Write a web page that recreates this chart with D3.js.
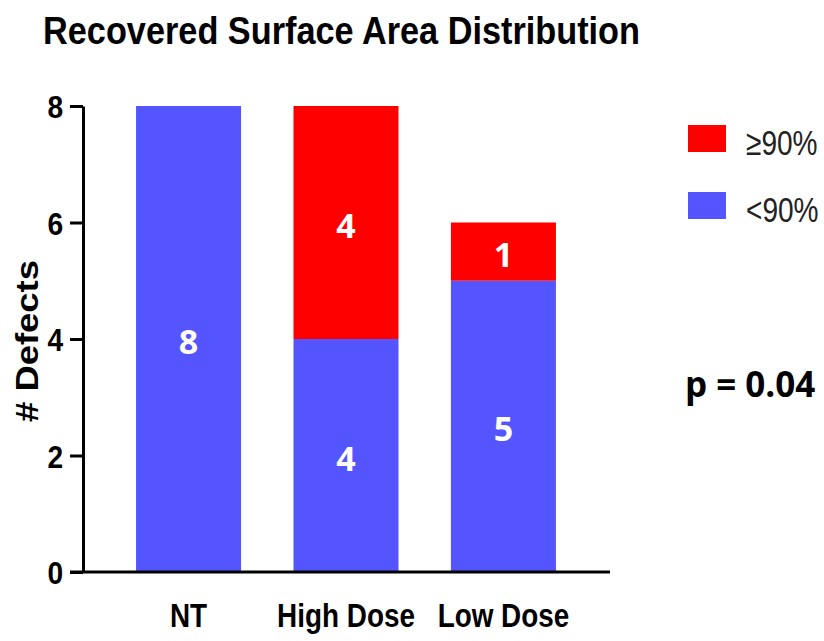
<!DOCTYPE html>
<html>
<head>
<meta charset="utf-8">
<script src="https://cdn.jsdelivr.net/npm/d3@7"></script>
<style>
  body { margin: 0; background: #fff; }
  svg { display: block; }
</style>
</head>
<body>
<svg id="chart" width="824" height="641"></svg>
<script>
const categories = ['NT', 'High Dose', 'Low Dose'];
const below90 = [8, 4, 5];
const above90 = [0, 4, 1];
const yTicks = [0, 2, 4, 6, 8];
const seriesNames = ['\u226590%', '<90%'];
const pValue = 'p = 0.04';

const blue = '#5555ff';
const red = '#ff0000';
const arial = '"Liberation Sans", Arial, sans-serif';
const sans = '"Open Sans", "DejaVu Sans", sans-serif';

const svg = d3.select('#chart');

const y = d3.scaleLinear().domain([0, 8]).range([572, 106]);
const x = d3.scaleBand()
  .domain(categories)
  .range([83, 609])
  .paddingInner(0.333)
  .paddingOuter(0.337);

// title (the original font is a narrow one, so squeeze it)
svg.append('text')
  .attr('x', 43).attr('y', 44)
  .attr('textLength', 597).attr('lengthAdjust', 'spacingAndGlyphs')
  .style('font-family', arial).style('font-weight', 'bold').style('font-size', '38px')
  .text('Recovered Surface Area Distribution');

// stacked bars
const rows = categories.map((c, i) => ({ cat: c, lo: below90[i], hi: above90[i] }));

const bars = svg.append('g');
bars.selectAll('rect.lo').data(rows).join('rect')
  .attr('class', 'lo')
  .attr('x', d => x(d.cat)).attr('width', x.bandwidth())
  .attr('y', d => y(d.lo)).attr('height', d => y(0) - y(d.lo))
  .attr('fill', blue);

bars.selectAll('rect.hi').data(rows.filter(d => d.hi > 0)).join('rect')
  .attr('class', 'hi')
  .attr('x', d => x(d.cat)).attr('width', x.bandwidth())
  .attr('y', d => y(d.lo + d.hi)).attr('height', d => y(d.lo) - y(d.lo + d.hi))
  .attr('fill', red);

// value labels inside segments
const labels = [];
rows.forEach(d => {
  labels.push({ cat: d.cat, v: d.lo, mid: d.lo / 2 });
  if (d.hi > 0) labels.push({ cat: d.cat, v: d.hi, mid: d.lo + d.hi / 2 });
});
svg.append('g').selectAll('text').data(labels).join('text')
  .attr('x', d => x(d.cat) + x.bandwidth() / 2)
  .attr('y', d => y(d.mid) + 15)
  .attr('text-anchor', 'middle')
  .attr('fill', '#fff')
  .style('font-family', sans).style('font-weight', 'bold').style('font-size', '34px')
  .text(d => d.v);

// y axis
const yAxis = svg.append('g')
  .attr('transform', 'translate(83,0)')
  .call(d3.axisLeft(y).tickValues(yTicks).tickSize(13).tickSizeOuter(0).tickPadding(5));
yAxis.select('.domain').attr('stroke', '#000').attr('stroke-width', 3);
yAxis.selectAll('.tick line').attr('stroke', '#000').attr('stroke-width', 3);
yAxis.selectAll('.tick text')
  .attr('dy', '0.36em')
  .attr('transform', 'translate(-18,0) scale(0.88,1)')
  .attr('x', -2)
  .style('font-family', arial).style('font-weight', 'bold').style('font-size', '32px')
  .attr('fill', '#000');

// x axis
const xAxis = svg.append('g')
  .attr('transform', 'translate(0,572)')
  .call(d3.axisBottom(x).tickSize(0).tickPadding(31));
xAxis.select('.domain').remove();
xAxis.selectAll('.tick text')
  .attr('transform', 'scale(0.82,1)')
  .style('font-family', arial).style('font-weight', 'bold').style('font-size', '34px')
  .attr('fill', '#000');
svg.append('line')
  .attr('x1', 70).attr('x2', 610)
  .attr('y1', y(0)).attr('y2', y(0))
  .attr('stroke', '#000').attr('stroke-width', 3);

// y axis title
svg.append('text')
  .attr('transform', `translate(38,${(y(0) + y(8)) / 2 + 2}) rotate(-90)`)
  .attr('text-anchor', 'middle')
  .attr('textLength', 162).attr('lengthAdjust', 'spacingAndGlyphs')
  .style('font-family', arial).style('font-weight', 'bold').style('font-size', '32px')
  .text('# Defects');

// legend
const legendColors = [red, blue];
const legend = svg.append('g').selectAll('g').data(seriesNames).join('g')
  .attr('transform', (d, i) => `translate(688,${125 + i * 67})`);
legend.append('rect')
  .attr('width', 38).attr('height', 27)
  .attr('fill', (d, i) => legendColors[i]);
legend.append('text')
  .attr('transform', 'translate(58,30) scale(0.78,1)')
  .style('font-family', arial).style('font-size', '36px')
  .attr('fill', '#222')
  .text(d => d);

// p value
svg.append('text')
  .attr('x', 685).attr('y', 397)
  .style('font-family', sans).style('font-weight', 'bold').style('font-size', '35px')
  .text(pValue);
</script>
</body>
</html>
